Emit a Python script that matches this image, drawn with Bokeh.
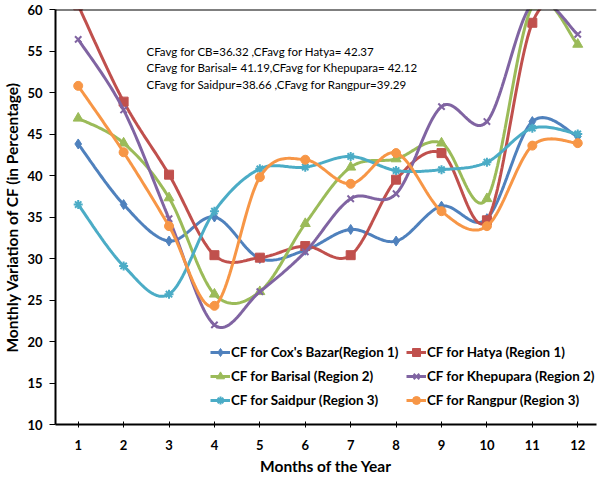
import numpy as np
from bokeh.plotting import figure
from bokeh.models import Range1d, FixedTicker, Legend, LegendItem, Label, Span
from bokeh.embed import file_html
from bokeh.resources import INLINE

months = list(range(1, 13))
cox_bazar = [43.8, 36.5, 32.1, 35.0, 30.0, 31.0, 33.5, 32.1, 36.3, 34.8, 46.5, 44.7]
hatya = [60.5, 48.9, 40.1, 30.4, 30.1, 31.5, 30.4, 39.5, 42.7, 34.6, 58.4, 61.4]
barisal = [46.9, 43.9, 37.3, 25.7, 26.0, 34.2, 41.0, 42.0, 43.9, 37.2, 60.4, 55.8]
khepupara = [56.4, 47.9, 34.8, 22.0, 26.0, 30.8, 37.2, 37.8, 48.3, 46.5, 60.7, 57.0]
saidpur = [36.5, 29.1, 25.7, 35.7, 40.8, 41.0, 42.3, 40.6, 40.7, 41.6, 45.7, 45.0]
rangpur = [50.8, 42.8, 33.9, 24.3, 39.8, 41.9, 39.0, 42.7, 35.7, 33.9, 43.6, 43.9]

y_ticks = [10, 15, 20, 25, 30, 35, 40, 45, 50, 55, 60]
series_labels = [
    "CF for Cox's Bazar(Region 1)",
    "CF for Hatya (Region 1)",
    "CF for Barisal (Region 2)",
    "CF for Khepupara (Region 2)",
    "CF for Saidpur (Region 3)",
    "CF for Rangpur (Region 3)",
]
avg_lines = [
    "CFavg for CB=36.32 ,CFavg for Hatya= 42.37",
    "CFavg for Barisal= 41.19,CFavg for Khepupara= 42.12",
    "CFavg for Saidpur=38.66 ,CFavg for Rangpur=39.29",
]

colors = ["#4F81BD", "#C0504D", "#9BBB59", "#8064A2", "#4BACC6", "#F79646"]
markers = ["diamond", "square", "triangle", "x", "asterisk", "circle"]
msizes = [10, 9, 10, 9, 9, 9]
FONT = "Lato"


def smooth(xs, ys, n=30):
    x = np.asarray(xs, float)
    y = np.asarray(ys, float)
    px = np.concatenate([[x[0]], x, [x[-1]]])
    py = np.concatenate([[y[0]], y, [y[-1]]])
    ox, oy = [], []
    m = len(x)
    for i in range(m - 1):
        p0x, p1x, p2x, p3x = px[i], px[i + 1], px[i + 2], px[i + 3]
        p0y, p1y, p2y, p3y = py[i], py[i + 1], py[i + 2], py[i + 3]
        c1x = p1x + (p2x - p0x) / 6.0
        c1y = p1y + (p2y - p0y) / 6.0
        c2x = p2x - (p3x - p1x) / 6.0
        c2y = p2y - (p3y - p1y) / 6.0
        t = np.linspace(0, 1, n, endpoint=(i == m - 2))
        a = (1 - t) ** 3
        b = 3 * (1 - t) ** 2 * t
        c = 3 * (1 - t) * t ** 2
        d = t ** 3
        ox.extend(a * p1x + b * c1x + c * c2x + d * p2x)
        oy.extend(a * p1y + b * c1y + c * c2y + d * p2y)
    return ox, oy


p = figure(width=598, height=478, output_backend="svg", toolbar_location=None,
           x_range=Range1d(0.5, 12.413), y_range=Range1d(10, 60),
           min_border_left=48, min_border_right=2, min_border_top=9,
           min_border_bottom=54)
p.outline_line_color = None
p.xgrid.visible = False
p.ygrid.visible = False
p.background_fill_color = "white"

data = [cox_bazar, hatya, barisal, khepupara, saidpur, rangpur]
items = []
for vals, col, mk, ms, lab in zip(data, colors, markers, msizes, series_labels):
    sx, sy = smooth(months, vals)
    r1 = p.line(sx, sy, line_color=col, line_width=3)
    if mk in ("x", "asterisk"):
        r2 = p.scatter(months, vals, marker=mk, size=ms, line_color=col,
                       line_width=2, fill_color=col)
    else:
        r2 = p.scatter(months, vals, marker=mk, size=ms, line_color=col,
                       fill_color=col)
    items.append(LegendItem(label=lab, renderers=[r1, r2]))

p.add_layout(Span(location=60, dimension="width", line_color="black",
                  line_width=2))

for ax in (p.xaxis[0], p.yaxis[0]):
    ax.axis_line_color = "black"
    ax.axis_line_width = 2
    ax.major_tick_line_color = "black"
    ax.minor_tick_line_color = None
    ax.major_label_text_font = FONT
    ax.major_label_text_font_style = "bold"
    ax.major_label_text_font_size = "13px"
    ax.major_label_text_color = "black"
    ax.axis_label_text_font = FONT
    ax.axis_label_text_font_style = "bold"
    ax.axis_label_text_font_size = "15.5px"
    ax.axis_label_text_color = "black"

p.xaxis.ticker = FixedTicker(ticks=months)
p.xaxis.major_tick_in = 3
p.xaxis.major_tick_out = 3
p.xaxis.major_label_standoff = 12
p.xaxis.axis_label = "Months of the Year"
p.xaxis.axis_label_standoff = 4

p.yaxis.ticker = FixedTicker(ticks=y_ticks)
p.yaxis.major_tick_in = 0
p.yaxis.major_tick_out = 6
p.yaxis.major_label_standoff = 7
p.yaxis.axis_label = "Monthly Variation of CF (in Percentage)"
p.yaxis.axis_label_standoff = 3

left_items = [items[0], items[2], items[4]]
right_items = [items[1], items[3], items[5]]
for its, xloc in ((left_items, 155), (right_items, 351)):
    lg = Legend(items=its, location=(xloc, 14), padding=0, margin=0,
                spacing=4, glyph_width=20, glyph_height=20, label_height=20,
                label_standoff=1, border_line_color=None,
                background_fill_alpha=0, label_text_font=FONT,
                label_text_font_style="bold", label_text_font_size="13.4px",
                label_text_color="black")
    p.add_layout(lg, "center")

for i, txt in enumerate(avg_lines):
    p.add_layout(Label(x=91, y=373.3 - i * 16.4, x_units="screen",
                       y_units="screen", text=txt, text_font=FONT,
                       text_font_size="11.5px", text_baseline="middle",
                       text_color="black"))

open("out.html", "w").write(file_html(p, INLINE))
